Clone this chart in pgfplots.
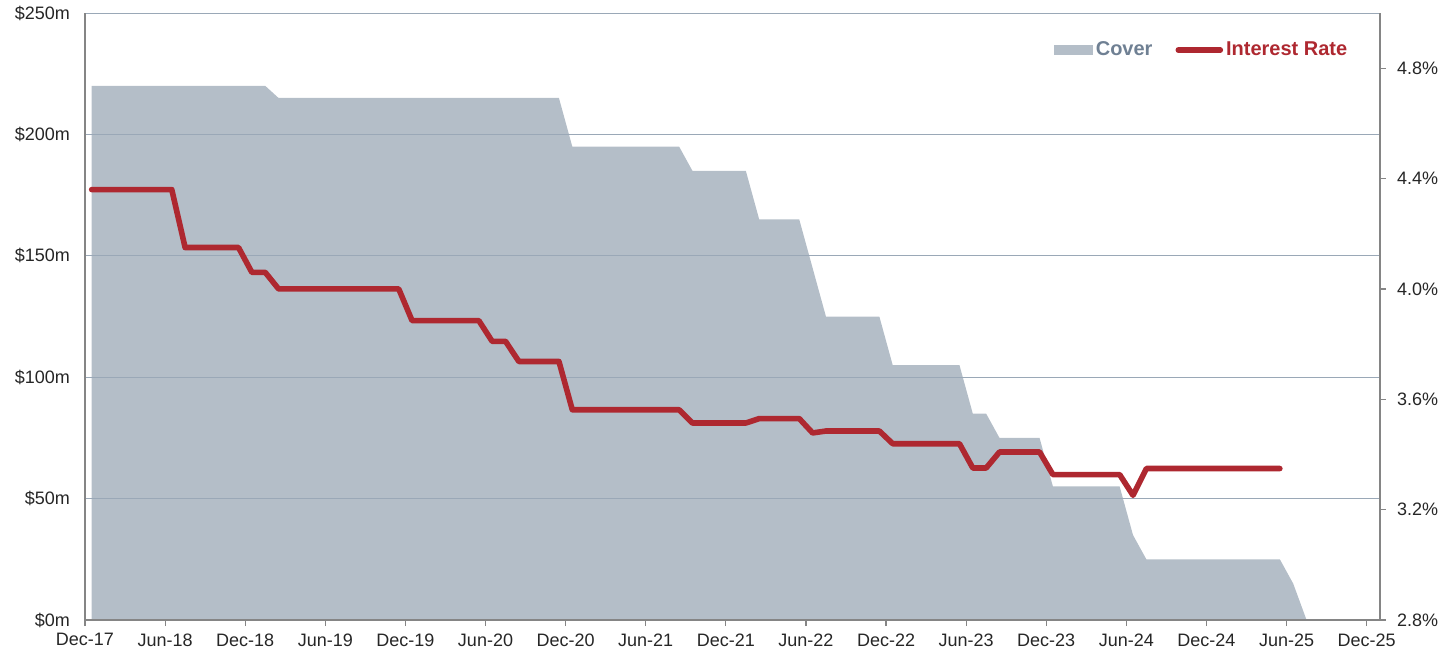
\documentclass[border=0pt]{standalone}
\usepackage{pgfplots}
\pgfplotsset{compat=1.18}
\usepackage{fontspec}
\setmainfont{Liberation Sans}
\definecolor{areacol}{HTML}{B4BEC8}
\definecolor{ratecol}{HTML}{AE2830}
\definecolor{covertext}{HTML}{6F8093}
\definecolor{gridcol}{HTML}{9AA8B7}
\definecolor{axcol}{HTML}{858585}

% months since Dec-17, cover in $m
\pgfplotstableread{
m     cover
0.5   220
13.5  220
14.5  215
35.5  215
36.5  195
44.5  195
45.5  185
49.5  185
50.5  165
53.5  165
55.5  125
59.5  125
60.5  105
65.5  105
66.5  85
67.5  85
68.5  75
71.5  75
72.5  55
77.5  55
78.5  35
79.5  25
89.5  25
90.5  15
91.5  0
}\covertable

% interest rate in %
\pgfplotstableread{
m     rate
0.5   4.360
6.5   4.360
7.5   4.150
11.5  4.150
12.5  4.060
13.5  4.060
14.5  4.000
23.5  4.000
24.5  3.885
29.5  3.885
30.5  3.810
31.5  3.810
32.5  3.737
35.5  3.737
36.5  3.562
44.5  3.562
45.5  3.514
49.5  3.514
50.5  3.530
53.5  3.530
54.5  3.478
55.5  3.485
59.5  3.485
60.5  3.439
65.5  3.439
66.5  3.351
67.5  3.351
68.5  3.409
71.5  3.409
72.5  3.327
77.5  3.327
78.5  3.252
79.5  3.349
89.5  3.349
}\ratetable

\pgfplotsset{
  base/.style={
    at={(0,0)}, anchor=south west,
    scale only axis, width=647.5pt, height=303.5pt,
    xmin=0, xmax=97,
    axis line style={axcol, line width=0.7pt},
    tick style={axcol, line width=0.6pt},
    tick label style={font=\fontsize{9}{10.5}\selectfont, text=black!85},
  },
}

\begin{document}
\begin{tikzpicture}
\useasboundingbox (-42.5pt,-15pt) rectangle (679pt,310pt);

\begin{axis}[base,
    ymin=0, ymax=250,
    axis x line*=bottom, axis y line*=left,
    xtick={0,6,...,96},
    xticklabels={Dec-17,Jun-18,Dec-18,Jun-19,Dec-19,Jun-20,Dec-20,Jun-21,Dec-21,Jun-22,Dec-22,Jun-23,Dec-23,Jun-24,Dec-24,Jun-25,Dec-25},
    x tick label style={yshift=1pt},
    xtick align=outside,
    x tick style={/pgfplots/major tick length=3pt},
    ytick={0,50,100,150,200,250},
    yticklabels={\$0m,\$50m,\$100m,\$150m,\$200m,\$250m},
    y tick style={draw=none},
    y tick label style={xshift=-4pt},
    ymajorgrids, major grid style={gridcol, line width=0.5pt},
    axis on top,
]
\addplot[fill=areacol, draw=none] table[x=m, y=cover] {\covertable} \closedcycle;
\end{axis}

\begin{axis}[base,
    ymin=2.8, ymax=5.0,
    axis y line*=right, axis x line=none,
    ytick={2.8,3.2,3.6,4.0,4.4,4.8},
    yticklabels={2.8\%,3.2\%,3.6\%,4.0\%,4.4\%,4.8\%},
    ytick align=outside, major tick length=3pt,
    y tick label style={xshift=2pt},
    legend columns=2,
    legend style={draw=none, fill=none, at={(0.982,0.939)}, anchor=east,
      font=\fontsize{10}{12}\selectfont\bfseries,
      /tikz/every even column/.append style={column sep=10pt},
      nodes={inner sep=1.5pt}},
]
\addlegendimage{legend image code/.code={\fill[areacol] (0pt,-2.2pt) rectangle (19pt,2.2pt);}}
\addlegendentry{\textcolor{covertext}{Cover}}
\addplot[ratecol, line width=2.8pt, line cap=round, line join=round,
  legend image code/.code={\draw[ratecol, line width=2.8pt, line cap=round] (0pt,0pt) -- (21pt,0pt);}]
  table[x=m, y=rate] {\ratetable};
\addlegendentry{\textcolor{ratecol}{Interest Rate}}
\end{axis}
\end{tikzpicture}
\end{document}
